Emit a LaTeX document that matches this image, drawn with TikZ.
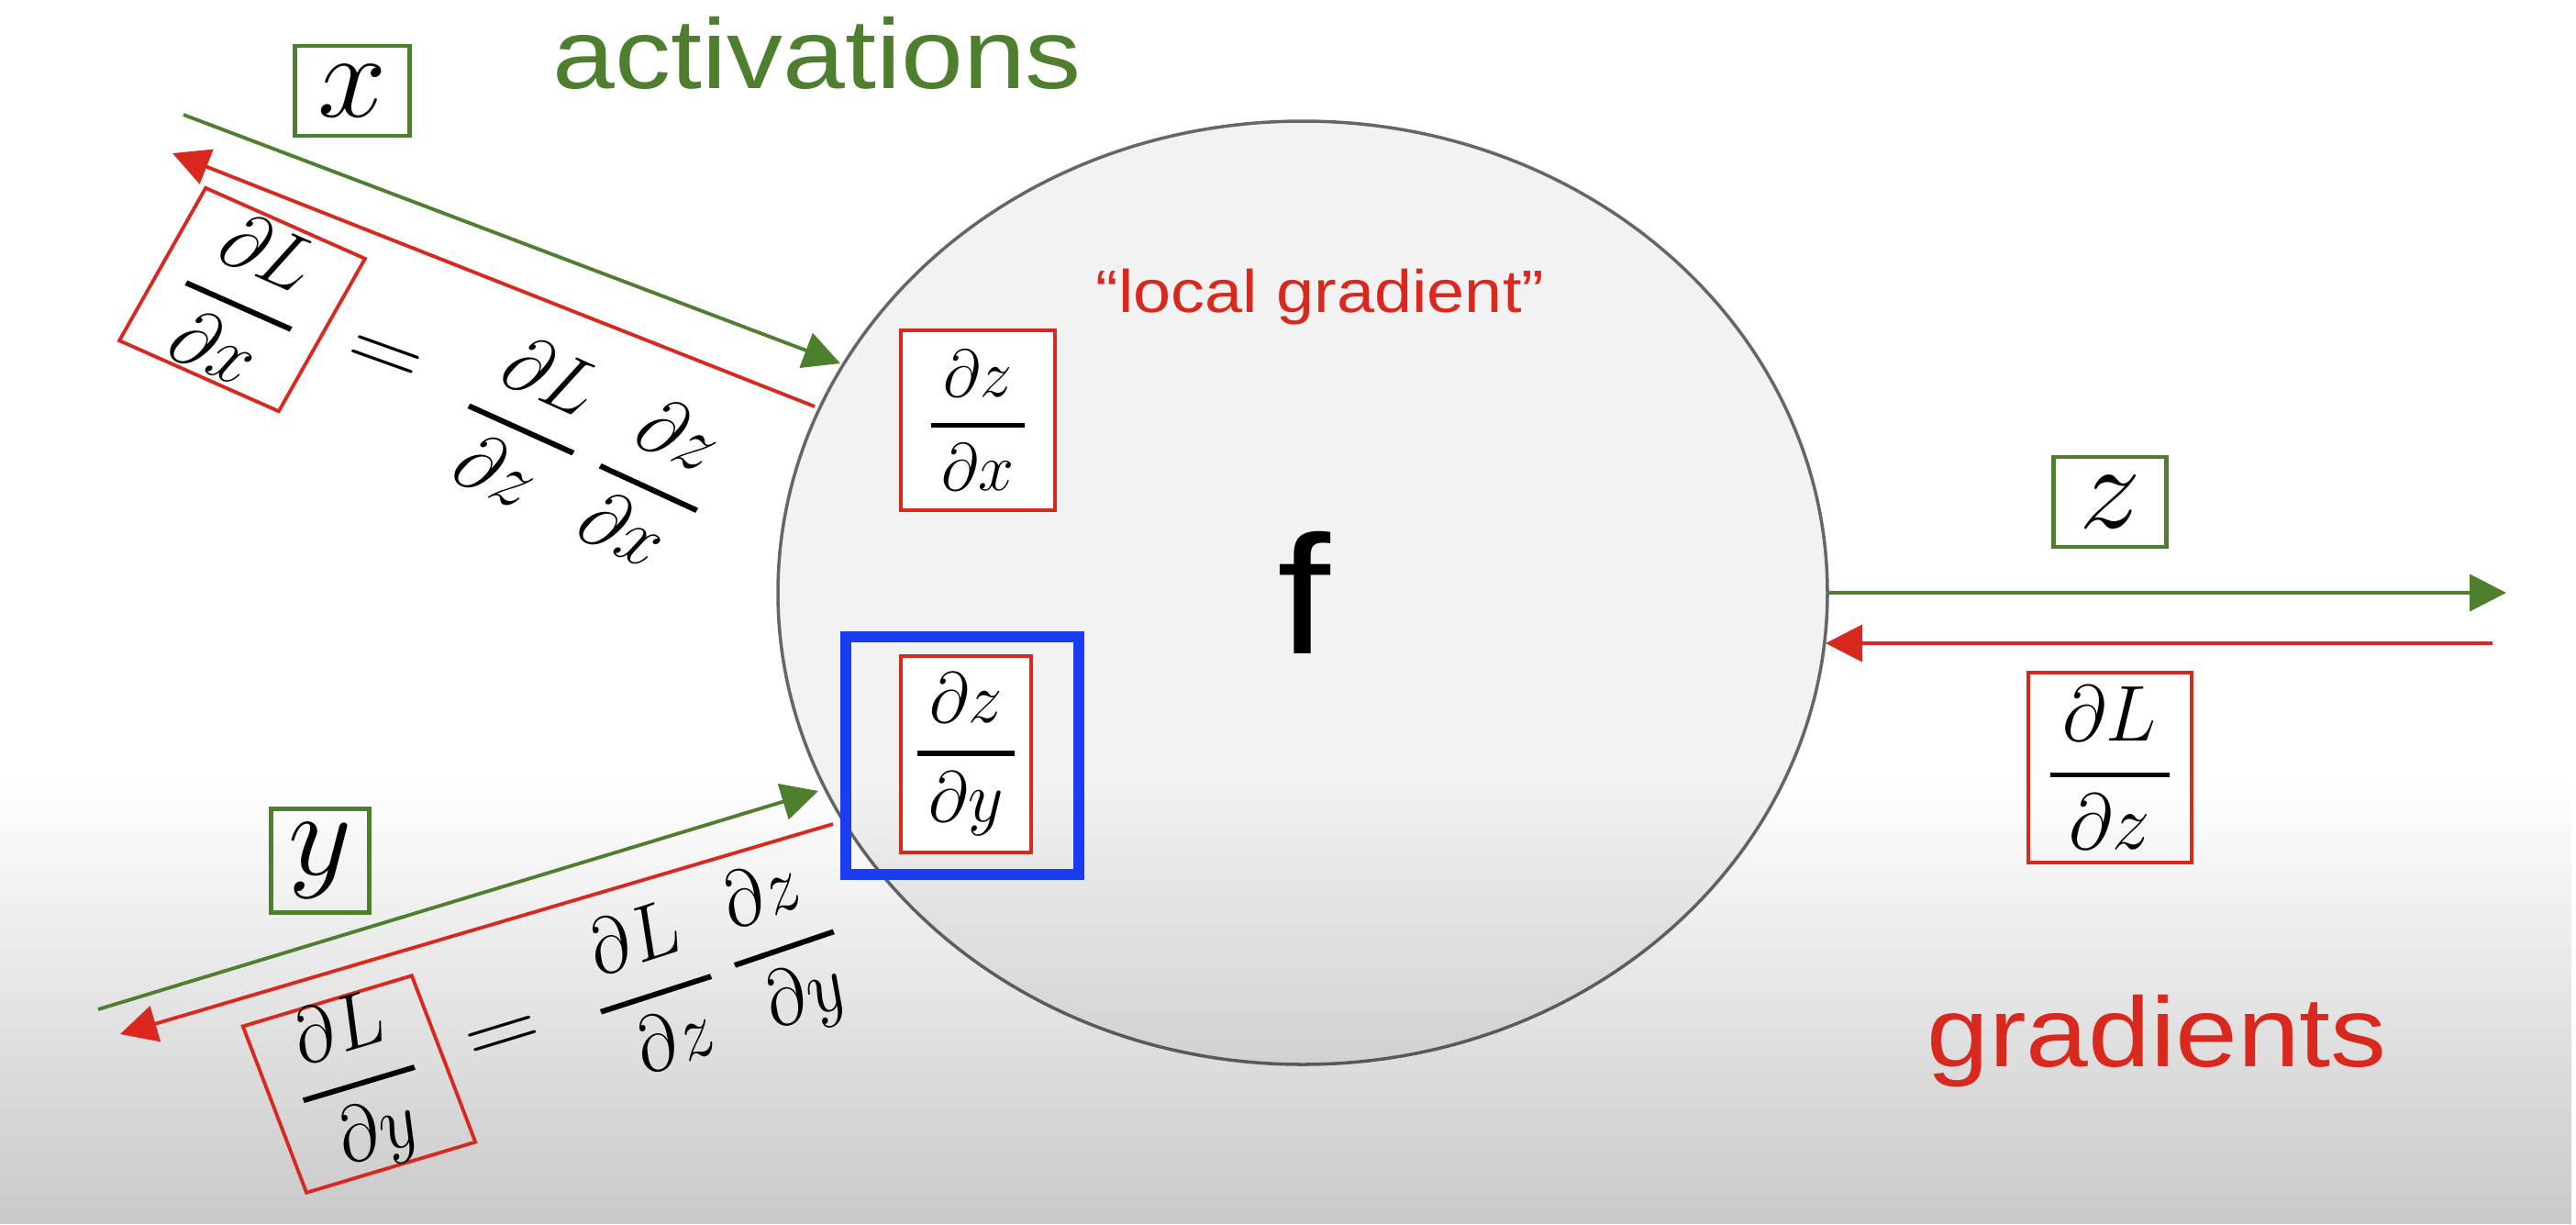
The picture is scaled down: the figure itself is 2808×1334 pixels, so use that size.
\documentclass[tikz,border=0pt]{standalone}
\usepackage{fix-cm}
\usepackage{amsmath}
\usepackage{graphicx}
\usepackage{fontspec}
\newfontfamily\arial{Liberation Sans}
\usetikzlibrary{arrows.meta,shapes.geometric,fadings}
\definecolor{agreen}{HTML}{4D7F2F}
\definecolor{gred}{HTML}{D9291F}
\definecolor{sblue}{HTML}{1A3CF0}
\definecolor{efill}{HTML}{F2F2F2}
\definecolor{eline}{HTML}{666666}
\tikzfading[name=botfade, top color=transparent!100, bottom color=transparent!0]
\newcommand\pfrac[2]{\scalebox{1}[1.18]{$\genfrac{}{}{1.4pt}{0}{\,#1\,}{\,#2\,}$}}
\newcommand\bigeq{\scalebox{1.4}[1.3]{$=$}}
\newcommand\varm[1]{\scalebox{1}[1.1]{$#1$}}
\newcommand\stnode[4]{\begin{scope}[shift={#3}, xscale=1.13, transform shape]\node[#1] (#2) at (0,0) {#4};\end{scope}}
\tikzset{
  gbox/.style={draw=agreen, line width=1.3pt, inner sep=0pt},
  rbox/.style={draw=gred, line width=1.1pt, inner sep=0pt},
  garrow/.style={agreen, line width=1.1pt, -{Triangle[length=4mm,width=4mm]}},
  rarrow/.style={gred, line width=1.1pt, -{Triangle[length=4mm,width=4mm]}},
  bigsans/.style={font=\arial\fontsize{30.7pt}{36pt}\selectfont},
  mfont/.style={font=\fontsize{#1}{#1}\selectfont}
}
\begin{document}
\begin{tikzpicture}[x=0.1mm, y=-0.1mm]
\fill[white] (0,0) rectangle (2808,1334);
\useasboundingbox (0,0) rectangle (2808,1334);
% function node
\node[ellipse, draw=eline, fill=efill, line width=1pt, minimum width=114.4mm, minimum height=102.8mm, inner sep=0pt] (fn) at (1420,646) {};
\fill[black, opacity=0.21, path fading=botfade] (0,850) rectangle (2808,1334);

% titles
\stnode{anchor=base, text=agreen, bigsans}{act}{(891,96)}{activations}
\stnode{anchor=base, text=gred, bigsans}{grad}{(2351,1162)}{gradients}
\stnode{anchor=base, text=gred, font=\arial\fontsize{18.6pt}{22pt}\selectfont}{lg}{(1439,340)}{“local gradient”}
\stnode{anchor=base, font=\arial\fontsize{52.4pt}{60pt}\selectfont}{fl}{(1421,712)}{f}

% variable boxes
\stnode{gbox, minimum width=11.06mm, minimum height=9.8mm, mfont=34pt}{xb}{(384,99)}{\varm{x}}
\stnode{gbox, minimum width=9.47mm, minimum height=11.3mm, mfont=34pt}{yb}{(349,938)}{\varm{y}}
\stnode{gbox, minimum width=10.88mm, minimum height=9.8mm, mfont=34pt}{zb}{(2300,547)}{\varm{z}}

% local gradients
\stnode{rbox, fill=white, minimum width=14.8mm, minimum height=19.6mm, mfont=17.6pt}{dzdx}{(1066,458)}{\pfrac{\partial z}{\partial x}}
\node[draw=sblue, line width=3.5pt, minimum width=25.4mm, minimum height=25.9mm, inner sep=0pt] (sel) at (1049,823.5) {};
\stnode{rbox, fill=white, minimum width=12.57mm, minimum height=21.4mm, mfont=18.8pt}{dzdy}{(1053,822)}{\pfrac{\partial z}{\partial y}}

% upstream gradient
\stnode{rbox, minimum width=15.75mm, minimum height=20.7mm, mfont=20.8pt}{dLdz}{(2300,836.5)}{\pfrac{\partial L}{\partial z}}

% chain rule for x
\stnode{rbox, rotate=-26.6, minimum width=17.2mm, minimum height=18.6mm, mfont=20.5pt}{dLdx}{(264,326.5)}{\pfrac{\partial L}{\partial x}}
\stnode{rotate=-22, mfont=20.5pt, inner sep=0pt}{eqx}{(418,393)}{\bigeq}
\stnode{rotate=-27, mfont=20.5pt, inner sep=0pt}{fx1}{(572,461)}{\pfrac{\partial L}{\partial z}}
\stnode{rotate=-27.5, mfont=20.5pt, inner sep=0pt}{fx2}{(711,525)}{\pfrac{\partial z}{\partial x}}

% chain rule for y
\stnode{rbox, rotate=18.7, minimum width=17.2mm, minimum height=18.7mm, mfont=20.5pt}{dLdy}{(391.5,1181.5)}{\pfrac{\partial L}{\partial y}}
\stnode{rotate=19, mfont=20.5pt, inner sep=0pt}{eqy}{(550,1133)}{\bigeq}
\stnode{rotate=20, mfont=20.5pt, inner sep=0pt}{fy1}{(712,1076)}{\pfrac{\partial L}{\partial z}}
\stnode{rotate=21, mfont=20.5pt, inner sep=0pt}{fy2}{(855,1034)}{\pfrac{\partial z}{\partial y}}

% connectors
\coordinate (gx0) at (200,125);  \coordinate (gx1) at (916,396);
\coordinate (rx0) at (888,443);  \coordinate (rx1) at (188,167);
\coordinate (gy0) at (107,1100); \coordinate (gy1) at (892,862);
\coordinate (ry0) at (908,898);  \coordinate (ry1) at (131,1127);
\coordinate (gz1) at (2732,646);
\coordinate (rz0) at (2717,701); \coordinate (rz1) at (1990,701);
\draw[garrow] (gx0) -- (gx1);
\draw[rarrow] (rx0) -- (rx1);
\draw[garrow] (gy0) -- (gy1);
\draw[rarrow] (ry0) -- (ry1);
\draw[garrow] (fn.east) -- (gz1);
\draw[rarrow] (rz0) -- (rz1);
\end{tikzpicture}
\end{document}
